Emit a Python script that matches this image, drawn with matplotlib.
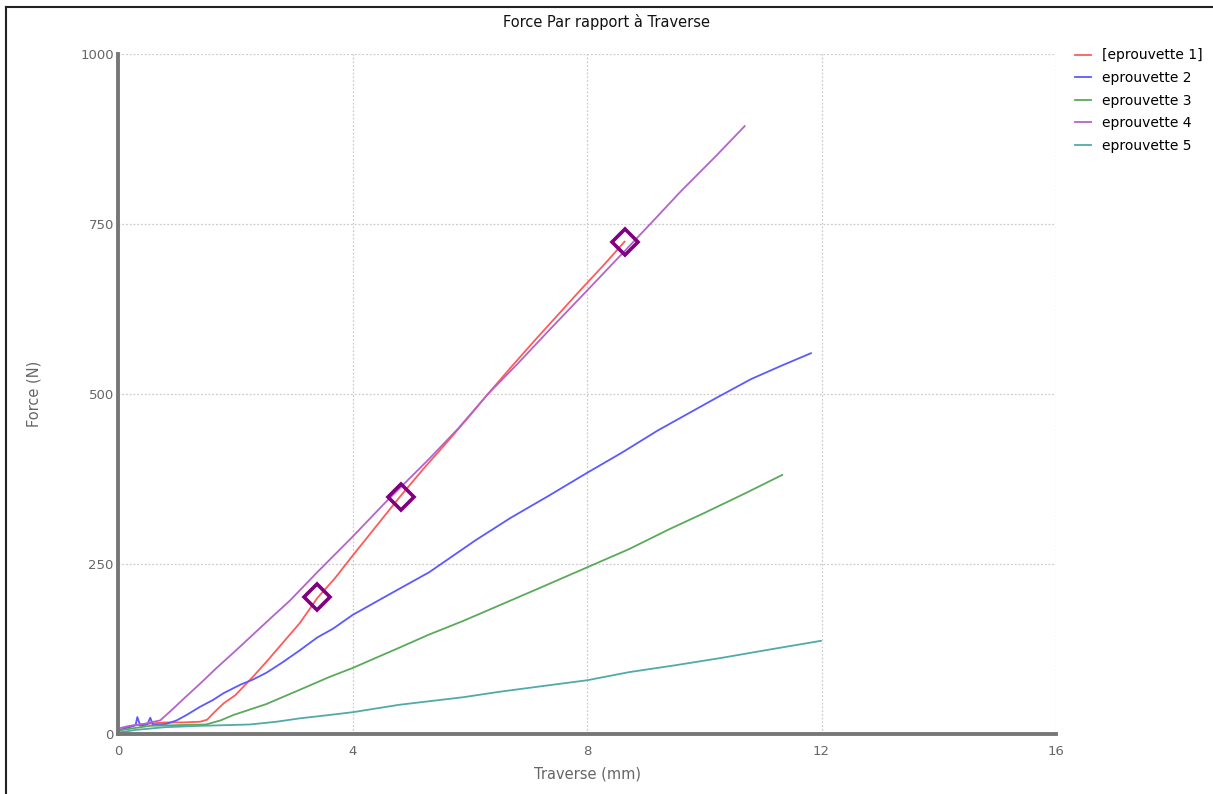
import matplotlib.pyplot as plt
from matplotlib.lines import Line2D

# values (Traverse in mm, Force in N)
x_ep1 = [0, 0.1, 0.3, 0.5, 0.8, 1.1, 1.4, 1.52, 1.62, 1.8, 2.0, 2.3, 2.53, 2.8, 3.1,
         3.4, 3.7, 4.0, 4.4, 4.8, 5.2, 5.6, 6.0, 6.3, 6.7, 7.1, 7.5, 7.9, 8.3, 8.64]
y_ep1 = [3, 8, 13, 15, 17, 17, 18, 21, 30, 45, 57, 84, 106, 133, 163,
         200, 229, 262, 305, 348, 389, 428, 468, 499, 539, 578, 616, 654, 691, 724]

x_ep2 = [0, 0.15, 0.3, 0.33, 0.38, 0.5, 0.55, 0.6, 0.83, 1.0, 1.17, 1.4, 1.62, 1.8, 1.96,
         2.1, 2.3, 2.53, 2.8, 3.1, 3.4, 3.67, 4.0, 4.6, 5.31, 6.1, 6.7, 7.36, 8.0, 8.6,
         9.2, 9.7, 10.2, 10.8, 11.3, 11.82]
y_ep2 = [5, 9, 13, 25, 12, 14, 24, 13, 15, 20, 28, 40, 50, 60, 67,
         73, 80, 90, 105, 123, 142, 155, 175, 204, 238, 285, 318, 351, 384, 414,
         446, 470, 494, 522, 541, 560]

x_ep3 = [0, 0.3, 0.55, 1.0, 1.5, 1.75, 1.97, 2.25, 2.53, 2.8, 3.1, 3.61, 4.0, 4.4, 4.8,
         5.3, 5.88, 6.5, 7.2, 8.0, 8.72, 9.4, 10.0, 10.7, 11.33]
y_ep3 = [5, 9, 12, 13, 14, 20, 28, 36, 44, 54, 65, 84, 97, 112, 127,
         146, 166, 189, 215, 245, 272, 301, 325, 354, 381]

x_ep4 = [0, 0.2, 0.45, 0.72, 0.9, 1.11, 1.4, 1.68, 2.0, 2.3, 2.6, 2.93, 3.4, 4.0, 4.6,
         5.29, 5.8, 6.3, 6.8, 7.4, 8.0, 8.64, 9.09, 9.6, 10.2, 10.69]
y_ep4 = [8, 12, 15, 20, 34, 51, 74, 97, 122, 146, 170, 196, 238, 290, 344,
         403, 449, 499, 543, 598, 652, 710, 751, 798, 850, 894]

x_ep5 = [0, 0.3, 0.8, 1.4, 2.25, 2.7, 3.1, 3.61, 4.0, 4.8, 5.88, 6.5, 7.2, 8.0, 8.72,
         9.5, 10.3, 11.1, 11.99]
y_ep5 = [2, 6, 10, 12, 14, 18, 23, 28, 32, 43, 54, 62, 70, 79, 91,
         101, 112, 124, 137]

# diamond markers on eprouvette 1
x_marks = [3.40, 4.82, 8.64]
y_marks = [202, 348, 724]

labels = ['[eprouvette 1]', 'eprouvette 2', 'eprouvette 3', 'eprouvette 4', 'eprouvette 5']
colors = ['#ff5a5a', '#5a5aff', '#5aaa5a', '#b464c8', '#50aaaa']


def plot_chart():
    fig = plt.figure(figsize=(12.13, 7.94), dpi=100)
    ax = fig.add_axes([118 / 1213, 1 - 734 / 794, (1056 - 118) / 1213, (734 - 54) / 794])

    series = [(x_ep1, y_ep1), (x_ep2, y_ep2), (x_ep3, y_ep3), (x_ep4, y_ep4), (x_ep5, y_ep5)]
    for (xs, ys), lab, col in zip(series, labels, colors):
        ax.plot(xs, ys, color=col, lw=1.3, label=lab)

    ax.plot(x_marks, y_marks, ls='none', marker='D', ms=13, mfc='none',
            mec='#800080', mew=2.6, zorder=5)

    ax.set_xlim(0, 16)
    ax.set_ylim(0, 1000)
    ax.set_xticks([0, 4, 8, 12, 16])
    ax.set_yticks([0, 250, 500, 750, 1000])
    ax.grid(True, color='#cccccc', ls=(0, (1.5, 1.5)), lw=0.9)
    ax.tick_params(length=0, labelsize=9.5, colors='#666666')
    ax.tick_params(axis='x', pad=8)
    ax.tick_params(axis='y', pad=3)

    for side in ['top', 'right']:
        ax.spines[side].set_visible(False)
    for side in ['left', 'bottom']:
        ax.spines[side].set_color('#777777')
        ax.spines[side].set_linewidth(2.8)

    ax.set_xlabel('Traverse (mm)', fontsize=10.5, color='#666666', labelpad=6)
    ax.set_ylabel('Force (N)', fontsize=10.5, color='#666666', labelpad=28)

    fig.text(0.5, 1 - 22 / 794, 'Force Par rapport à Traverse', ha='center', va='center',
             fontsize=10.5, color='#111111')

    fig.legend(loc='upper left', bbox_to_anchor=(1062 / 1213, 1 - 36 / 794),
               frameon=False, fontsize=10, handlelength=1.2, handletextpad=0.8,
               labelspacing=0.62)

    # thin frame lines on the left and top of the picture
    fig.add_artist(Line2D([6 / 1213, 6 / 1213], [0, 1 - 7 / 794], color='#222222', lw=1.5))
    fig.add_artist(Line2D([6 / 1213, 1], [1 - 7 / 794, 1 - 7 / 794], color='#222222', lw=1.5))

    fig.savefig('out.png', dpi=100)


if __name__ == "__main__":
    plot_chart()
